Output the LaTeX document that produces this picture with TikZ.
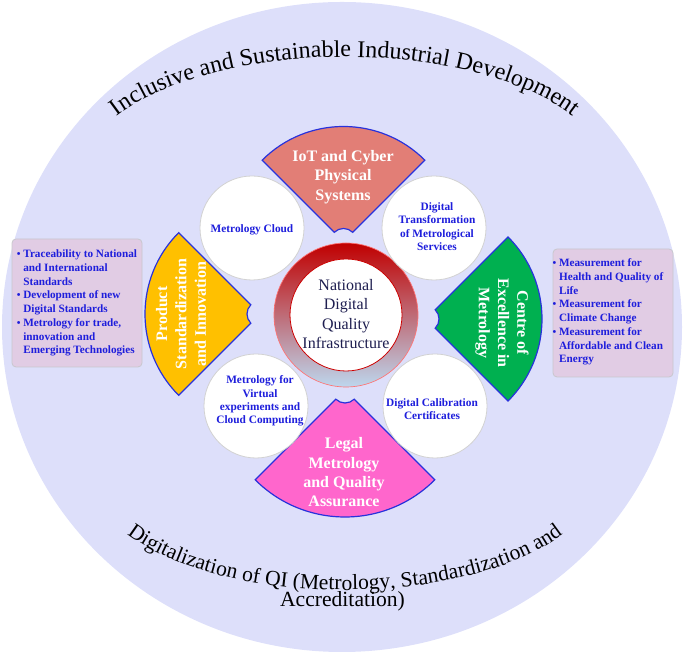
\documentclass[tikz,border=0pt]{standalone}
\usepackage{fontspec}
\setmainfont{Liberation Serif}
\usetikzlibrary{decorations.text}

\definecolor{lavender}{RGB}{221,223,250}
\definecolor{salmon}{RGB}{226,126,118}
\definecolor{gold}{RGB}{255,192,0}
\definecolor{leafgreen}{RGB}{0,176,80}
\definecolor{hotpink}{RGB}{255,102,204}
\definecolor{petalblue}{RGB}{40,50,220}
\definecolor{boxpink}{RGB}{225,204,228}
\definecolor{boxgrey}{RGB}{200,200,205}
\definecolor{textblue}{RGB}{30,30,220}
\definecolor{navy}{RGB}{30,30,80}
\definecolor{ringred}{RGB}{192,0,0}
\definecolor{ringblue}{RGB}{189,215,238}

% apex x, apex y, direction, radius, colour
\newcommand{\drawpetal}[5]{%
  \draw[petal, fill=#5, shift={(#1,#2)}] (#3-45:13) -- (#3-45:#4)
    arc[start angle=#3-45, end angle=#3+45, radius=#4] -- (#3+45:13)
    arc[start angle=#3+45, end angle=#3-45, radius=13] -- cycle;}
\newcommand{\dotmark}{{\fontsize{8}{8}\selectfont\textbullet}}

\begin{document}
\begin{tikzpicture}[x=0.75pt, y=0.75pt,
  petal/.style={draw=petalblue, line width=0.9pt},
  petaltext/.style={text=white, font=\fontsize{12}{14.5}\selectfont\bfseries, align=center, inner sep=0pt},
  bubble/.style={circle, fill=white, draw=gray!35, line width=0.6pt, minimum size=78pt, inner sep=0pt},
  bubbletext/.style={text=textblue, font=\fontsize{8.5}{10}\selectfont\bfseries, align=center, inner sep=0pt},
  infobox/.style={fill=boxpink, draw=boxgrey, rounded corners=3pt, line width=0.6pt},
  infotext/.style={text=textblue, font=\fontsize{8.4}{10.3}\selectfont\bfseries, inner sep=0pt}]

	\useasboundingbox (0,0) rectangle (685,655);
	%background disc
	\fill[lavender] (342,328) ellipse [x radius=340, y radius=325];

	%arc labels
		%top
		\path[decorate, decoration={text along path, text align=center,
		  text={|\fontsize{18}{20}\selectfont|Inclusive and Sustainable Industrial Development}}]
		  (345,477) ++(160:265 and 121) arc[start angle=160, end angle=20, x radius=265, y radius=121];
		%bottom
		\path[decorate, decoration={text along path, text align=center,
		  text={|\fontsize{16.2}{18}\selectfont|Digitalization of QI (Metrology, Standardization and}}]
		  (345,175) ++(200:250 and 110) arc[start angle=200, end angle=340, x radius=250, y radius=110];
		\node[font=\fontsize{16.2}{18}\selectfont, inner sep=0pt, anchor=base] (accr) at (342.5,48) {Accreditation)};

	%side boxes
		%left
		\draw[infobox] (12,288) rectangle (142,416);
		\node[infotext] (leftlist) at (77,352) {\begin{tabular}{@{}l@{\hspace{2pt}}l@{}}
		  \dotmark & Traceability to National\\
		   & and International\\
		   & Standards\\
		  \dotmark & Development of new\\
		   & Digital Standards\\
		  \dotmark & Metrology for trade,\\
		   & innovation and\\
		   & Emerging Technologies
		\end{tabular}};
		%right
		\draw[infobox] (553,278) rectangle (673,406);
		\node[infotext] (rightlist) at (608,343) {\begin{tabular}{@{}l@{\hspace{2pt}}l@{}}
		  \dotmark & Measurement for\\
		   & Health and Quality of\\
		   & Life\\
		  \dotmark & Measurement for\\
		   & Climate Change\\
		  \dotmark & Measurement for\\
		   & Affordable and Clean\\
		   & Energy
		\end{tabular}};

	%petals
		%top
		\drawpetal{343.5}{413.5}{90}{115}{salmon}
		\node[petaltext] (iot) at (343,478) {IoT and Cyber\\Physical\\Systems};
		%right
		\drawpetal{426}{336}{0}{116}{leafgreen}
		\node[petaltext, rotate=-90] (coe) at (502,332) {Centre of\\Excellence in\\Metrology};
		%left
		\drawpetal{260}{341}{180}{115}{gold}
		\node[petaltext, rotate=90] (psi) at (181,341) {Product\\Standardization\\and Innovation};
		%bottom
		\drawpetal{345}{265}{270}{127}{hotpink}
		\node[petaltext] (lmq) at (344,182.5) {Legal\\Metrology\\and Quality\\Assurance};

	%hub
	\path[top color=ringred, bottom color=ringblue, draw=red!55, line width=0.5pt] (346,340) circle (72);
	\node[circle, fill=white, draw=red!80!black, line width=0.6pt, minimum size=84pt, inner sep=0pt] (hub) at (346,340) {};
	\node[font=\fontsize{12}{14.6}\selectfont, text=navy, align=center, inner sep=0pt] (ndqi) at (346,341) {National\\Digital\\Quality\\Infrastructure};

	%bubbles
	\node[bubble] (cloud) at (252,427) {};
	\node[bubbletext] (cloudtxt) at (252,425) {Metrology Cloud};
	\node[bubble] (transf) at (434,427) {};
	\node[bubbletext] (transftxt) at (437,428.5) {Digital\\Transformation\\of Metrological\\Services};
	\node[bubble] (virtual) at (256,249) {};
	\node[bubbletext] (virtualtxt) at (260,254) {Metrology for\\Virtual\\experiments and\\Cloud Computing};
	\node[bubble] (calib) at (435,249) {};
	\node[bubbletext] (calibtxt) at (432,246) {Digital Calibration\\Certificates};
\end{tikzpicture}
\end{document}
